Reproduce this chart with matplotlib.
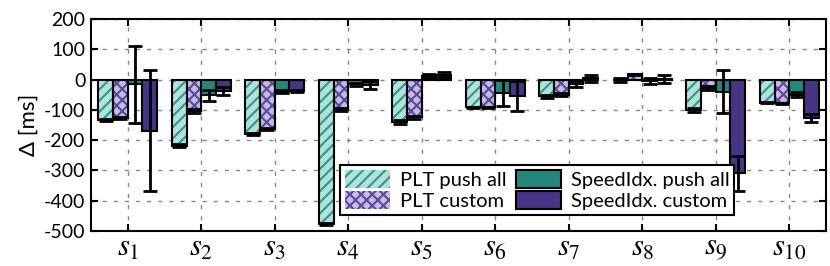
import matplotlib
matplotlib.use("Agg")
import matplotlib.pyplot as plt
from matplotlib.patches import Patch
import numpy as np

SITES = [f"$s_{{{i}}}$" for i in range(1, 11)]
SERIES = ["PLT push all", "PLT custom", "SpeedIdx. push all", "SpeedIdx. custom"]

plt_push_all = [-134, -218, -181, -478, -140, -91, -55, -2, -100, -77]
plt_push_all_err = [3, 5, 3, 3, 6, 2, 5, 7, 6, 2]
plt_custom = [-128, -103, -163, -100, -125, -92, -50, 17, -27, -79]
plt_custom_err = [3, 6, 3, 5, 6, 2, 5, 3, 7, 2]
si_push_all = [-15, -52, -40, -15, 12, -45, -15, -5, -40, -50]
si_push_all_err = [127, 18, 5, 5, 6, 42, 9, 11, 70, 8]
si_custom = [-169, -38, -38, -18, 16, -55, 4, 2, -310, -128]
si_custom_err = [199, 12, 4, 12, 8, 50, 12, 13, 58, 13]

plt.rcParams.update({
    "font.family": ["Lato", "DejaVu Sans"],
    "font.size": 13,
    "mathtext.fontset": "stix",
    "axes.unicode_minus": False,
    "axes.linewidth": 1.5,
    "hatch.linewidth": 1.5,
})

fig = plt.figure(figsize=(8.3, 2.66), dpi=100)
ax = fig.add_axes([91 / 830, 35 / 266, 735 / 830, 212 / 266])

x = np.arange(1, 11)
w = 0.2
# (fill, hatch, hatch colour)
styles = [
    ("#b4e0da", "///", "#2a9a8c"),
    ("#c4bce0", "xxx", "#5a48a0"),
    ("#23877c", None, None),
    ("#463584", None, None),
]
vals = [plt_push_all, plt_custom, si_push_all, si_custom]
errs = [plt_push_all_err, plt_custom_err, si_push_all_err, si_custom_err]

handles = []
for k, (v, e, (fc, hatch, hc), name) in enumerate(zip(vals, errs, styles, SERIES)):
    pos = x - 0.4 + k * w + w / 2
    if hatch:
        ax.bar(pos, v, w, facecolor=fc, edgecolor=hc, hatch=hatch, linewidth=0, zorder=3)
        ax.bar(pos, v, w, facecolor="none", edgecolor="black", linewidth=1.5, zorder=3)
    else:
        ax.bar(pos, v, w, facecolor=fc, edgecolor="black", linewidth=1.5, zorder=3)
    ax.errorbar(pos, v, yerr=e, fmt="none", ecolor="black", elinewidth=2,
                capsize=5, capthick=2, zorder=4)
    handles.append(Patch(facecolor=fc, edgecolor=hc if hatch else "black",
                         hatch=hatch, linewidth=0 if hatch else 1.5, label=name))

ax.set_xlim(0.5, 10.5)
ax.set_ylim(-500, 200)
ax.set_xticks(x)
ax.set_xticklabels(SITES)
ax.set_yticks(np.arange(-500, 201, 100))
ax.set_ylabel("Δ [ms]", fontsize=16)
ax.grid(True, linestyle=(0, (3, 5)), color="#888888", linewidth=1, zorder=0)
ax.tick_params(direction="in", length=5, width=1.5, top=True, right=True,
               labelsize=14, pad=4)
ax.tick_params(axis="x", labelsize=22, pad=2)

leg = ax.legend(handles=handles, ncol=2, loc="lower left", bbox_to_anchor=(0.339, 0.075),
                borderaxespad=0, fancybox=False, framealpha=1, fontsize=14.5,
                handlelength=2.2, handleheight=1.0, labelspacing=0.1,
                columnspacing=0.5, handletextpad=0.5, borderpad=0.25)
leg.get_frame().set_edgecolor("black")
leg.get_frame().set_linewidth(1.5)

fig.savefig("out.png", dpi=100)
